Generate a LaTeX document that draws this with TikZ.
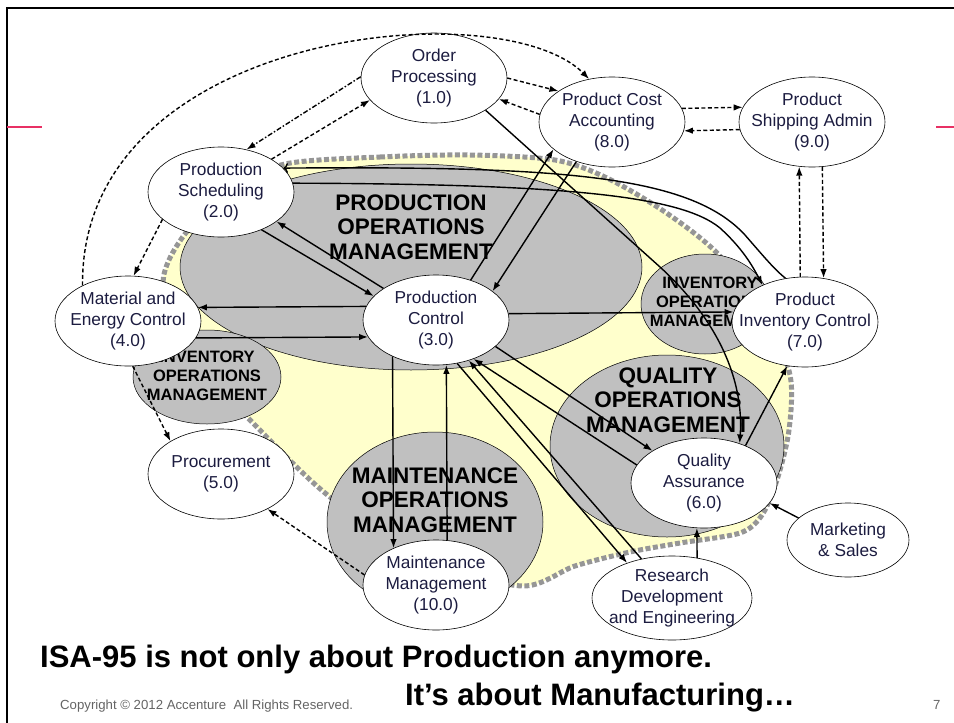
\documentclass[tikz,border=0pt]{standalone}
\usepackage{fontspec}
\setmainfont{Liberation Sans}
\usetikzlibrary{shapes.geometric,arrows.meta}
\definecolor{scopeyellow}{RGB}{255,255,204}
\definecolor{areagray}{RGB}{192,192,192}
\definecolor{dotgray}{RGB}{150,150,150}
\definecolor{boxtext}{RGB}{28,28,64}
\definecolor{rulepink}{RGB}{232,48,100}
\definecolor{notegray}{RGB}{100,100,100}
\tikzset{
  activity/.style={ellipse,draw=black,fill=white,line width=0.6pt,minimum width=146pt,minimum height=90pt,inner xsep=-40pt,inner ysep=-15pt,align=center,text=boxtext,font=\fontsize{17.3}{21}\selectfont},
  opsarea/.style={ellipse,draw=black,fill=areagray,line width=0.5pt,inner sep=0pt},
  arealabel/.style={align=center,font=\bfseries\fontsize{22.5}{24.5}\selectfont},
  smalllabel/.style={align=center,font=\bfseries\fontsize{16.5}{19}\selectfont},
  dataflow/.style={draw=black,line width=1.4pt,-{Latex[length=9pt,width=6.5pt]}},
  infoflow/.style={dataflow,dash pattern=on 4pt off 2.5pt},
  planflow/.style={dataflow,dash pattern=on 5pt off 2pt on 1.5pt off 2pt},
  scopeline/.style={draw=dotgray,line width=5pt,dash pattern=on 5pt off 2.5pt},
}

\begin{document}
\begin{tikzpicture}[x=1pt,y=-1pt]
  \useasboundingbox (0,0) rectangle (954,723);
  % slide frame
  \draw[line width=2pt] (954,8) -- (7,8) -- (7,723);
  \draw[rulepink,line width=1.6pt] (7,127) -- (42,127);
  \draw[rulepink,line width=1.6pt] (936,127) -- (954,127);

  % manufacturing scope
  \path[fill=scopeyellow,scopeline] plot[smooth cycle,tension=0.5] coordinates {
    (285,164) (380,157) (470,155) (555,160) (607,178) (665,212) (717,253)
    (765,315) (790,375) (789,430) (777,480) (762,515) (740,533) (680,543)
    (630,552) (575,566) (522,586) (430,560) (330,497) (248,418) (178,345)
    (163,282) (182,238) (228,190)};

  % operations management areas
  \node[opsarea,minimum width=462pt,minimum height=206pt] (pomarea) at (411,267) {};
  \node[opsarea,minimum width=148pt,minimum height=94pt] (iomleft) at (207,377) {};
  \node[opsarea,minimum width=128pt,minimum height=100pt] (iomright) at (705,304) {};
  \node[opsarea,minimum width=234pt,minimum height=182pt] (qomarea) at (667,446) {};
  \node[opsarea,minimum width=216pt,minimum height=180pt] (momarea) at (435,522) {};

  \node[arealabel] (pomtext) at (411,227) {PRODUCTION\\OPERATIONS\\MANAGEMENT};
  \node[smalllabel] (iomlefttext) at (207,376) {INVENTORY\\OPERATIONS\\MANAGEMENT};
  \node[smalllabel] (iomrighttext) at (710,302) {INVENTORY\\OPERATIONS\\MANAGEMENT};
  \node[arealabel] (qomtext) at (668,400) {QUALITY\\OPERATIONS\\MANAGEMENT};
  \node[arealabel] (momtext) at (435,500) {MAINTENANCE\\OPERATIONS\\MANAGEMENT};

  % activities
  \node[activity] (op) at (434,78) {Order\\Processing\\(1.0)};
  \node[activity] (pca) at (612,122) {Product Cost\\Accounting\\(8.0)};
  \node[activity] (psa) at (812,122) {Product\\Shipping Admin\\(9.0)};
  \node[activity] (ps) at (221,192) {Production\\Scheduling\\(2.0)};
  \node[activity] (mec) at (128,321) {Material and\\Energy Control\\(4.0)};
  \node[activity] (pc) at (436,320) {Production\\Control\\(3.0)};
  \node[activity] (pic) at (805,322) {Product\\Inventory Control\\(7.0)};
  \node[activity] (proc) at (221,474) {Procurement\\(5.0)};
  \node[activity] (qa) at (704,483) {Quality\\Assurance\\(6.0)};
  \node[activity,minimum width=122pt,minimum height=74pt] (ms) at (848,540) {Marketing\\\& Sales};
  \node[activity] (mm) at (436,585) {Maintenance\\Management\\(10.0)};
  \node[activity,minimum width=160pt,minimum height=84pt] (rde) at (672,598) {Research\\Development\\and Engineering};

  % dashed information flows
  \draw[infoflow] (mec.142.8) .. controls (80,30) and (500,-10) .. (pca.118.6);
  \draw[planflow] (op.179) -- (ps.59.6);
  \draw[infoflow] (ps.33) -- (op.199);
  \draw[infoflow] (op.0) -- (pca.150.7);
  \draw[infoflow] (pca.174.4) -- (op.342);
  \draw[infoflow] (pca.11.8) -- (psa.168.2);
  \draw[infoflow] (psa.186.3) -- (pca.353.7);
  \draw[infoflow] (pic.96.4) -- (psa.254.9);
  \draw[infoflow] (psa.283.9) -- (pic.67.6);
  \draw[infoflow] (ps.205.8) -- (mec.83.7);
  \draw[infoflow] (mec.276.2) -- (proc.147.3);
  \draw[infoflow] (mm.172.2) -- (proc.323.3);

  % solid flows
  \draw[dataflow] (pc.149.5) -- (ps.332.2);
  \draw[dataflow] (ps.317.9) -- (pc.159.6);
  \draw[dataflow] (pc.169.5) -- (mec.11.4);
  \draw[dataflow] (mec.346.8) -- (pc.194.1);
  \draw[dataflow] (pc.49.6) -- (pca.205.4);
  \draw[dataflow] (pca.228.2) -- (pc.27.8);
  \draw[dataflow] (op.328.5) -- (660,267) .. controls (718,320) and (744,380) .. (qa.48.5);
  \draw[dataflow,<-] (ps.21.2) .. controls (560,166) and (690,175) .. (745,235) .. controls (765,258) and (775,270) .. (pic.114);
  \draw[dataflow] (ps.7.4) .. controls (560,184) and (680,195) .. (720,228) .. controls (742,248) and (752,265) .. (pic.139);
  \draw[dataflow] (pc.5.5) -- (pic.172.8);
  \draw[dataflow] (qa.42.3) -- (pic.248.6);
  \draw[dataflow] (pc.336.3) -- (qa.148.7);
  \draw[dataflow] (qa.165.6) -- (pc.314.3);
  \draw[dataflow] (pc.296.1) -- (rde.142.5);
  \draw[dataflow] (rde.128.7) -- (pc.309);
  \draw[dataflow] (pc.220.3) -- (mm.139.7);
  \draw[dataflow] (mm.76.1) -- (pc.283.9);
  \draw[dataflow] (rde.58) -- (qa.261.1);
  \draw[dataflow] (ms.156.5) -- (qa.343.8);

  % slide texts
  \node[anchor=base west,inner sep=0pt,font=\bfseries\fontsize{31}{31}\selectfont] (claim) at (40,667) {ISA-95 is not only about Production anymore.};
  \node[anchor=base west,inner sep=0pt,font=\bfseries\fontsize{31}{31}\selectfont] (claimtwo) at (405,705) {It’s about Manufacturing…};
  \node[anchor=base west,inner sep=0pt,text=notegray,font=\fontsize{13.2}{14}\selectfont] (copyright) at (60,709) {Copyright © 2012 Accenture\ \ All Rights Reserved.};
  \node[anchor=base west,inner sep=0pt,text=notegray,font=\fontsize{13.2}{14}\selectfont] (pagenum) at (933,709) {7};
\end{tikzpicture}
\end{document}
